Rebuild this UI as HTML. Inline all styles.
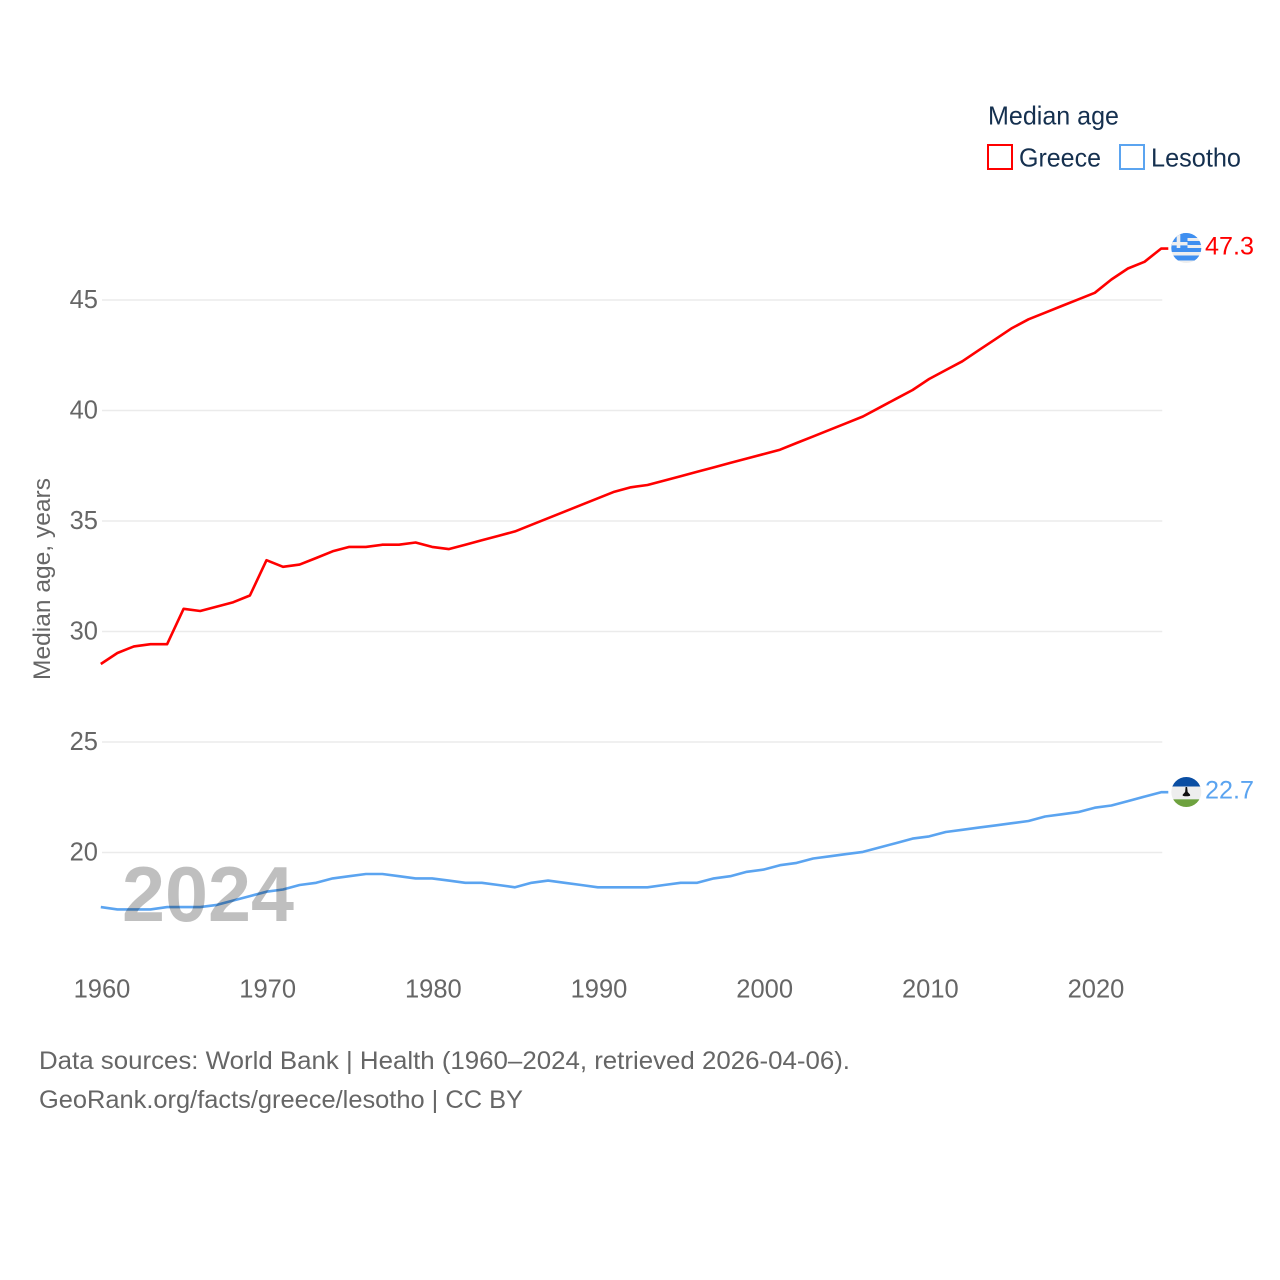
<!DOCTYPE html>
<html lang="en">
<head>
<meta charset="utf-8">
<title>Median age: Greece and Lesotho</title>
<style>
html,body{margin:0;padding:0;background:#fff;}
svg{display:block;font-family:"Liberation Sans",sans-serif;}
</style>
</head>
<body>
<svg id="chart" xmlns="http://www.w3.org/2000/svg" width="1280" height="1280" viewBox="0 0 1280 1280">
  <defs>
    <clipPath id="clip-gr"><circle cx="1186.3" cy="248" r="15"/></clipPath>
    <clipPath id="clip-ls"><circle cx="1186.3" cy="792" r="15"/></clipPath>
  </defs>
  <g id="grid"></g>
  <g id="yticks"></g>
  <g id="xticks"></g>
  <text transform="translate(50,579) rotate(-90)" text-anchor="middle" font-size="24.5" fill="#666" textLength="202" lengthAdjust="spacingAndGlyphs">Median age, years</text>
  <polyline id="line-greece" fill="none" stroke="#ff0000" stroke-width="2.6" stroke-linejoin="round"/>
  <polyline id="line-lesotho" fill="none" stroke="#5ba4f0" stroke-width="2.6" stroke-linejoin="round"/>
  <text x="122" y="921" font-size="78" font-weight="700" fill="#000" fill-opacity="0.25" textLength="172" lengthAdjust="spacingAndGlyphs">2024</text>

  <g clip-path="url(#clip-gr)">
    <rect x="1171" y="232" width="31" height="32" fill="#eeeeee"/>
    <rect x="1171" y="232" width="31" height="6" fill="#3f8ff0"/>
    <rect x="1171" y="241" width="31" height="4" fill="#3f8ff0"/>
    <rect x="1171" y="248" width="31" height="4" fill="#3f8ff0"/>
    <rect x="1171" y="255.5" width="31" height="5" fill="#3f8ff0"/>
    <rect x="1171" y="232" width="16.5" height="16" fill="#3f8ff0"/>
    <rect x="1176.7" y="232" width="3.6" height="16" fill="#eeeeee"/>
    <rect x="1171" y="242" width="16.5" height="3.4" fill="#eeeeee"/>
  </g>
  <g clip-path="url(#clip-ls)">
    <rect x="1171" y="776" width="31" height="10.5" fill="#0a4ea3"/>
    <rect x="1171" y="786.5" width="31" height="12.8" fill="#eeeeee"/>
    <rect x="1171" y="799.3" width="31" height="9" fill="#6ea23f"/>
    <path d="M1185.6 787h1.5l.6 5 2.4 2.6v1.2l-2 .5h-3.4l-2-.5v-1.2l2.4-2.6z" fill="#111"/>
  </g>
  <text x="1205" y="254.5" font-size="25" fill="#ff0000" textLength="49" lengthAdjust="spacingAndGlyphs">47.3</text>
  <text x="1205" y="798.5" font-size="25" fill="#5ba4f0" textLength="49" lengthAdjust="spacingAndGlyphs">22.7</text>

  <g>
    <text x="988" y="124.5" font-size="26" fill="#15304f" textLength="131" lengthAdjust="spacingAndGlyphs">Median age</text>
    <rect x="988" y="145" width="24" height="24" fill="#fff" stroke="#ff0000" stroke-width="2"/>
    <text x="1019" y="166.5" font-size="26" fill="#15304f" textLength="82" lengthAdjust="spacingAndGlyphs">Greece</text>
    <rect x="1120" y="145" width="24" height="24" fill="#fff" stroke="#5ba4f0" stroke-width="2"/>
    <text x="1151" y="166.5" font-size="26" fill="#15304f" textLength="90" lengthAdjust="spacingAndGlyphs">Lesotho</text>
  </g>

  <text x="39" y="1069" font-size="25" fill="#666" textLength="811" lengthAdjust="spacingAndGlyphs">Data sources: World Bank | Health (1960–2024, retrieved 2026-04-06).</text>
  <text x="39" y="1108" font-size="25" fill="#666" textLength="484" lengthAdjust="spacingAndGlyphs">GeoRank.org/facts/greece/lesotho | CC BY</text>
</svg>
<script>
const startYear = 1960;
const endYear = 2024;
const xTickLabels = [1960, 1970, 1980, 1990, 2000, 2010, 2020];
const yTickLabels = [20, 25, 30, 35, 40, 45];
const greeceValues = [28.5,29.0,29.3,29.4,29.4,31.0,30.9,31.1,31.3,31.6,33.2,32.9,33.0,33.3,33.6,33.8,33.8,33.9,33.9,34.0,33.8,33.7,33.9,34.1,34.3,34.5,34.8,35.1,35.4,35.7,36.0,36.3,36.5,36.6,36.8,37.0,37.2,37.4,37.6,37.8,38.0,38.2,38.5,38.8,39.1,39.4,39.7,40.1,40.5,40.9,41.4,41.8,42.2,42.7,43.2,43.7,44.1,44.4,44.7,45.0,45.3,45.9,46.4,46.7,47.3];
const lesothoValues = [17.5,17.4,17.4,17.4,17.5,17.5,17.5,17.6,17.8,18.0,18.2,18.3,18.5,18.6,18.8,18.9,19.0,19.0,18.9,18.8,18.8,18.7,18.6,18.6,18.5,18.4,18.6,18.7,18.6,18.5,18.4,18.4,18.4,18.4,18.5,18.6,18.6,18.8,18.9,19.1,19.2,19.4,19.5,19.7,19.8,19.9,20.0,20.2,20.4,20.6,20.7,20.9,21.0,21.1,21.2,21.3,21.4,21.6,21.7,21.8,22.0,22.1,22.3,22.5,22.7];

const NS = 'http://www.w3.org/2000/svg';
function xScale(year) { return 102 + (year - 1960) * (1096 - 102) / 60; }
function yScale(v) { return 852.5 - (v - 20) * (852.5 - 300) / 25; }
function pointsFor(values) {
  const pts = values.map(function (v, i) { return (xScale(startYear + i) - 1.2).toFixed(1) + ',' + (yScale(v) - 0.6).toFixed(1); });
  pts.push((xScale(endYear) + 6).toFixed(1) + ',' + (yScale(values[values.length - 1]) - 0.6).toFixed(1));
  return pts.join(' ');
}

document.getElementById('line-greece').setAttribute('points', pointsFor(greeceValues));
document.getElementById('line-lesotho').setAttribute('points', pointsFor(lesothoValues));

const grid = document.getElementById('grid');
const yticks = document.getElementById('yticks');
yTickLabels.forEach(function (t) {
  const line = document.createElementNS(NS, 'line');
  
  
  line.setAttribute('x1', xScale(startYear));
  line.setAttribute('x2', xScale(endYear));
  line.setAttribute('y1', yScale(t));
  line.setAttribute('y2', yScale(t));
  line.setAttribute('stroke', '#ebebeb');
  line.setAttribute('stroke-width', '1.6');
  grid.appendChild(line);

  const label = document.createElementNS(NS, 'text');
  
  
  label.setAttribute('x', 98);
  label.setAttribute('y', yScale(t) + 8);
  label.setAttribute('text-anchor', 'end');
  label.setAttribute('font-size', '25.5');
  label.setAttribute('fill', '#666');
  label.textContent = t;
  yticks.appendChild(label);
});

const xticks = document.getElementById('xticks');
xTickLabels.forEach(function (t) {
  const label = document.createElementNS(NS, 'text');
  
  
  label.setAttribute('x', xScale(t));
  label.setAttribute('y', 997.5);
  label.setAttribute('text-anchor', 'middle');
  label.setAttribute('font-size', '25.5');
  label.setAttribute('fill', '#666');
  label.textContent = t;
  xticks.appendChild(label);
});
</script>
</body>
</html>
